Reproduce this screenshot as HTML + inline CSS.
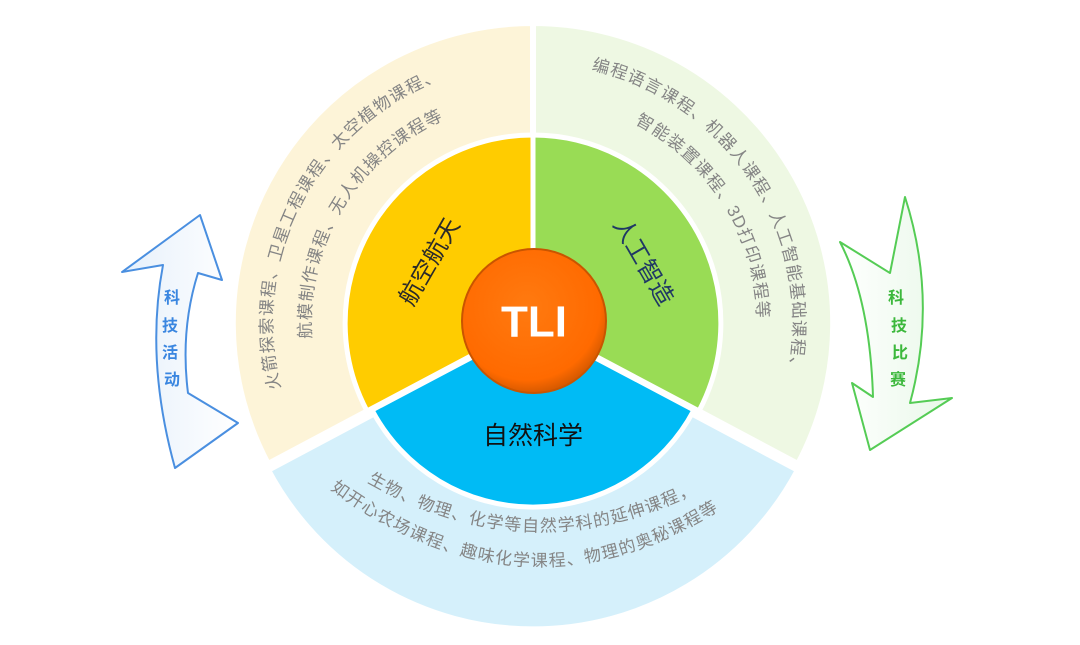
<!DOCTYPE html>
<html><head><meta charset="utf-8"><style>
html,body{margin:0;padding:0;background:#fff;}
svg{display:block;}
text{font-family:"Liberation Sans","Noto Sans CJK SC",sans-serif;}
</style></head><body>
<svg width="1080" height="645" viewBox="0 0 1080 645" xmlns="http://www.w3.org/2000/svg">
<defs>
<radialGradient id="org" cx="45%" cy="40%" r="60%">
<stop offset="0" stop-color="#ff7a10"/><stop offset="0.85" stop-color="#ff6a00"/><stop offset="1" stop-color="#d85a00"/>
</radialGradient>
<linearGradient id="ab" x1="0" y1="0" x2="1" y2="0"><stop offset="0" stop-color="#e6f0fb"/><stop offset="1" stop-color="#ffffff"/></linearGradient>
<linearGradient id="ag" x1="0" y1="0" x2="1" y2="0"><stop offset="0" stop-color="#ffffff"/><stop offset="1" stop-color="#e8f8e8"/></linearGradient>
<path id="y1" d="M280.7,388.4 A260,260 0 0 1 488.2,66.9"/>
<path id="y2" d="M311.5,338.5 A222,222 0 0 1 475.5,108.5"/>
<path id="g1" d="M591.5,69.8 A260,260 0 0 1 780.3,403.3"/>
<path id="g2" d="M634.7,123.4 A224,224 0 0 1 754.8,354.2"/>
<path id="b1" d="M367,482 Q535,578 705,488"/>
<path id="b2" d="M330,489 Q530,636 728,504"/>
</defs>

<path d="M533,323 L533,23 A300,300 0 0 0 268,464 Z" fill="#fdf4d8" stroke="#fff" stroke-width="6"/>
<path d="M533,323 L533,23 A300,300 0 0 1 798,464 Z" fill="#eef8e3" stroke="#fff" stroke-width="6"/>
<path d="M533,323 L268,464 A300,300 0 0 0 798,464 Z" fill="#d5f0fb" stroke="#fff" stroke-width="6" transform="translate(0,6)"/>

<path d="M533,323 L533,135 A188,188 0 0 0 367,411 Z" fill="#ffcc00" stroke="#fff" stroke-width="5"/>
<path d="M533,323 L533,135 A188,188 0 0 1 699,411 Z" fill="#99dc55" stroke="#fff" stroke-width="5"/>
<path d="M533,323 L372,408 A182,182 0 0 0 694,408 Z" fill="#00bbf5" stroke="#fff" stroke-width="5" transform="translate(0,2)"/>

<g font-size="17" fill="#858585" letter-spacing="1.2">
<text><textPath href="#y1">火箭探索课程、卫星工程课程、太空植物课程、</textPath></text>
<text><textPath href="#y2">航模制作课程、无人机操控课程等</textPath></text>
<text><textPath href="#g1">编程语言课程、机器人课程、人工智能基础课程、</textPath></text>
<text><textPath href="#g2">智能装置课程、3D打印课程等</textPath></text>
<text><textPath href="#b1">生物、物理、化学等自然学科的延伸课程，</textPath></text>
<text><textPath href="#b2">如开心农场课程、趣味化学课程、物理的奥秘课程等</textPath></text>
</g>

<text x="0" y="0" font-size="24" fill="#2a2a2a" text-anchor="middle" dominant-baseline="central" transform="translate(430,262) rotate(-60)">航空航天</text>
<text x="0" y="0" font-size="24" fill="#1f3864" text-anchor="middle" dominant-baseline="central" transform="translate(643,262) rotate(60)">人工智造</text>
<text x="533" y="436" font-size="25" fill="#111" text-anchor="middle" dominant-baseline="central">自然科学</text>

<circle cx="534" cy="321" r="72" fill="url(#org)" stroke="#c95500" stroke-width="2"/>
<text x="534" y="322" font-size="44" font-weight="bold" fill="#fff" text-anchor="middle" dominant-baseline="central">TLI</text>

<path d="M200,215 L222,280 L198,273 Q180,330 188,393 L238,423 L175,468 Q145,360 163,265 L122,272 Z" fill="url(#ab)" stroke="#4a8fe0" stroke-width="2" stroke-linejoin="round"/>
<g font-size="16" font-weight="bold" fill="#3a86e0" text-anchor="middle" font-family="Liberation Serif,Noto Serif CJK SC,serif">
<text x="172" y="303">科</text><text x="170" y="331">技</text><text x="170" y="358">活</text><text x="172" y="385">动</text>
</g>

<path d="M905,197 Q938,300 910,403 L952,398 L870,450 L852,383 L873,397 Q870,300 840,242 L890,273 Z" fill="url(#ag)" stroke="#55cc55" stroke-width="2" stroke-linejoin="round"/>
<g font-size="16" font-weight="bold" fill="#3cb83c" text-anchor="middle" font-family="Liberation Serif,Noto Serif CJK SC,serif">
<text x="896" y="303">科</text><text x="899" y="331">技</text><text x="900" y="358">比</text><text x="898" y="385">赛</text>
</g>
</svg>
</body></html>
